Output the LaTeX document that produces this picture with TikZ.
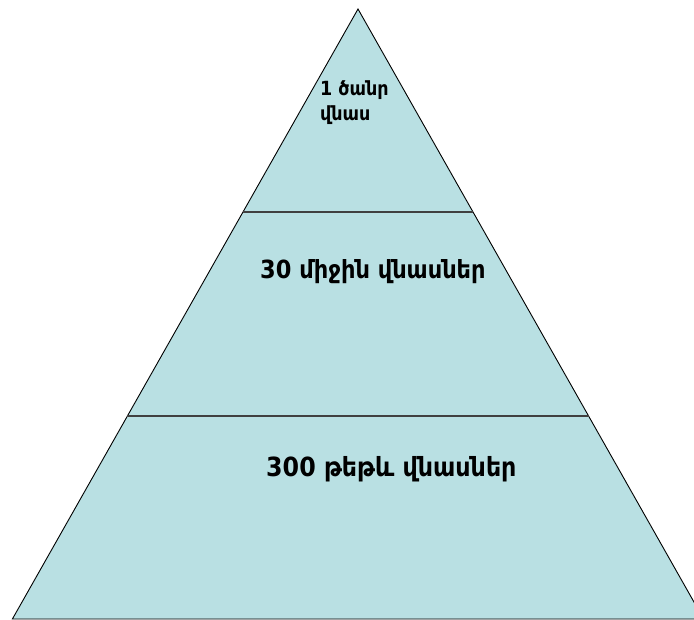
\documentclass[tikz,border=0pt]{standalone}
\usepackage{fontspec}
\setmainfont{DejaVu Sans Condensed}
\definecolor{pyrfill}{RGB}{185,224,227}
\begin{document}
\begin{tikzpicture}[x=1pt,y=-1pt,
  lvl/.style={anchor=base west,inner sep=0pt,text=black},
  divider/.style={draw=black!75,line width=1.1pt}]
\useasboundingbox (0,0) rectangle (694,619);
\coordinate (apex) at (358,9);
\coordinate (bl) at (12.4,619);
\coordinate (br) at (703.6,619);
\coordinate (l1) at (243,212);
\coordinate (r1) at (473,212);
\coordinate (l2) at (127.4,416);
\coordinate (r2) at (588.6,416);
\begin{scope}
\clip (0,0) rectangle (694,619);
\filldraw[fill=pyrfill,draw=black,line width=0.9pt,line join=miter] (apex) -- (br) -- (bl) -- cycle;
\end{scope}
\draw[divider] (l1) -- (r1);
\draw[divider] (l2) -- (r2);
\node[lvl,font=\bfseries\fontsize{19.5}{22}\selectfont] (t1a) at (320,95) {1 ծանր};
\node[lvl,font=\bfseries\fontsize{19.5}{22}\selectfont] (t1b) at (320,120) {վնաս};
\node[lvl,font=\bfseries\fontsize{25}{28}\selectfont] (t2) at (260,278) {30 միջին վնասներ};
\node[lvl,font=\bfseries\fontsize{26.4}{30}\selectfont] (t3) at (266,476) {300 թեթև վնասներ};
\end{tikzpicture}
\end{document}
